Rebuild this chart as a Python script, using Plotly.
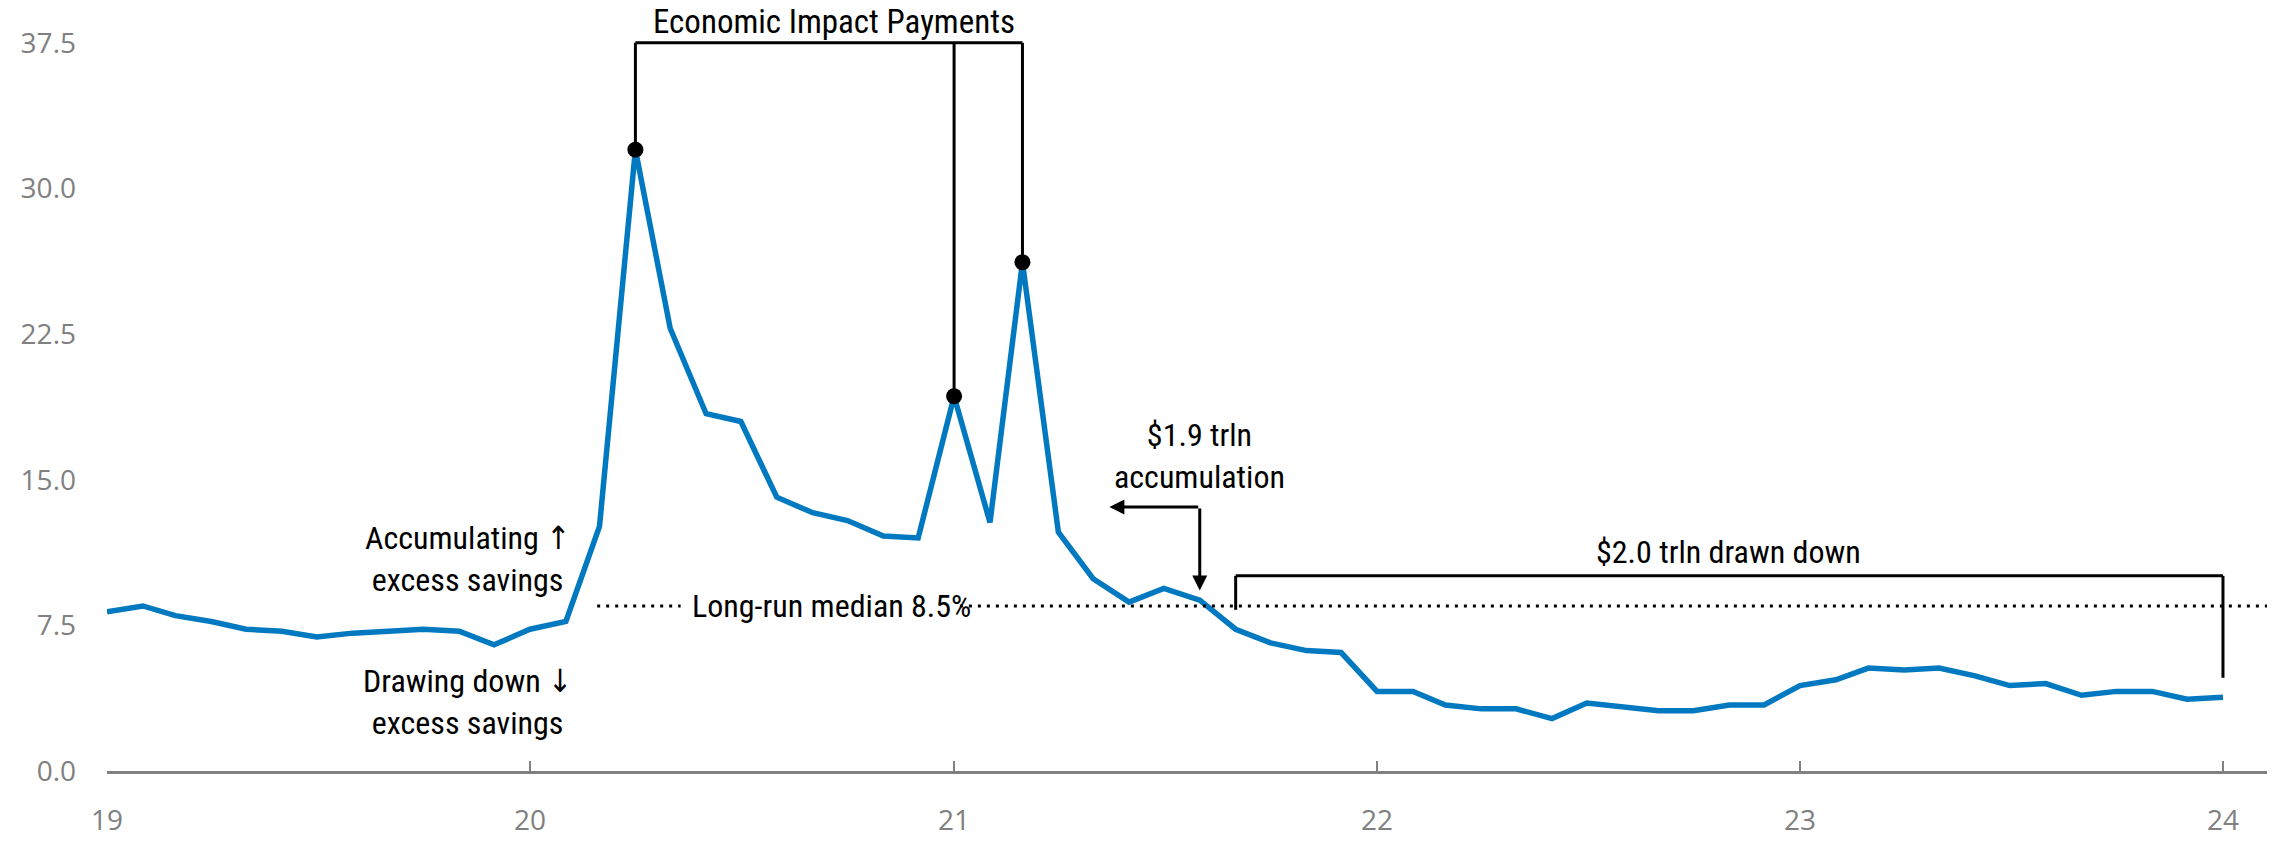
import pandas as pd
import plotly.graph_objects as go

# Monthly personal saving rate, % of disposable income (Jan 2019 - Jan 2024)
months = pd.date_range("2019-01-01", "2024-01-01", freq="MS")
saving_rate = [
    8.2, 8.5, 8.0, 7.7, 7.3, 7.2, 6.9, 7.1, 7.2, 7.3, 7.2, 6.5,      # 2019
    7.3, 7.7, 12.6, 32.0, 22.8, 18.4, 18.0, 14.1, 13.3, 12.9, 12.1, 12.0,  # 2020
    19.3, 12.8, 26.2, 12.3, 9.9, 8.7, 9.4, 8.8, 7.3, 6.6, 6.2, 6.1,  # 2021
    4.1, 4.1, 3.4, 3.2, 3.2, 2.7, 3.5, 3.3, 3.1, 3.1, 3.4, 3.4,      # 2022
    4.4, 4.7, 5.3, 5.2, 5.3, 4.9, 4.4, 4.5, 3.9, 4.1, 4.1, 3.7,      # 2023
    3.8,                                                             # 2024
]
payment_months = ["2020-04-01", "2021-01-01", "2021-03-01"]
long_run_median = 8.5

y_ticks = [0, 7.5, 15, 22.5, 30, 37.5]
x_ticks = ["2019-01-01", "2020-01-01", "2021-01-01", "2022-01-01", "2023-01-01", "2024-01-01"]
x_tick_text = ["19", "20", "21", "22", "23", "24"]

BLUE = "#0079C1"
GREY = "#808080"
TXT_FONT = dict(family="Roboto Condensed, DejaVu Sans Condensed, sans-serif", size=32, color="black")
TICK_FONT = dict(family="Open Sans, sans-serif", size=28, color=GREY)

series = pd.Series(saving_rate, index=months)
payment_vals = [series[pd.Timestamp(d)] for d in payment_months]

fig = go.Figure()
fig.add_trace(go.Scatter(x=months, y=saving_rate, mode="lines",
                         line=dict(color=BLUE, width=5.5), showlegend=False))

shapes = []
# Economic Impact Payments bracket: stems from each payment month up to a common bar
bracket_top = 37.5
for d, v in zip(payment_months, payment_vals):
    shapes.append(dict(type="line", xref="x", yref="y", x0=d, x1=d, y0=v, y1=bracket_top,
                       line=dict(color="black", width=3)))
shapes.append(dict(type="line", xref="x", yref="y", x0=payment_months[0], x1=payment_months[-1],
                   y0=bracket_top, y1=bracket_top, line=dict(color="black", width=3)))

# Long-run median, broken around its label
dot = dict(color="black", width=3, dash="3px,6px")
shapes.append(dict(type="line", xref="x", yref="y", x0="2020-02-28", x1="2020-05-10",
                   y0=long_run_median, y1=long_run_median, line=dot))
shapes.append(dict(type="line", xref="x", yref="y", x0="2021-01-06", x1="2024-02-08",
                   y0=long_run_median, y1=long_run_median, line=dot))

# Drawdown bracket
dd_top = 10.05
shapes += [
    dict(type="line", xref="x", yref="y", x0="2021-09-01", x1="2021-09-01", y0=8.3, y1=dd_top,
         line=dict(color="black", width=3)),
    dict(type="line", xref="x", yref="y", x0="2021-09-01", x1="2024-01-01", y0=dd_top, y1=dd_top,
         line=dict(color="black", width=3)),
    dict(type="line", xref="x", yref="y", x0="2024-01-01", x1="2024-01-01", y0=dd_top, y1=4.8,
         line=dict(color="black", width=3)),
]

fig.add_trace(go.Scatter(x=payment_months, y=payment_vals, mode="markers",
                         marker=dict(color="black", size=16), showlegend=False, cliponaxis=False))

annotations = [
    dict(x="2020-09-19", y=38.6, text="Economic Impact Payments", showarrow=False,
         font=dict(size=33)),
    dict(x="2019-11-08", y=10.9, text="Accumulating ↑<br>excess savings", showarrow=False),
    dict(x="2019-11-08", y=3.55, text="Drawing down ↓<br>excess savings", showarrow=False),
    dict(x="2020-09-17", y=long_run_median, text="Long-run median 8.5%", showarrow=False),
    dict(x="2021-08-01", y=16.2, text="$1.9 trln<br>accumulation", showarrow=False),
    dict(x="2022-10-31", y=11.3, text="$2.0 trln drawn down", showarrow=False),
    # L-shaped arrow pointing left and down
    dict(x="2021-08-01", y=9.3, ax="2021-08-01", ay=13.6, axref="x", ayref="y",
         showarrow=True, arrowhead=2, arrowsize=1, arrowwidth=3, arrowcolor="black", text=""),
    dict(x="2021-05-15", y=13.6, ax="2021-08-01", ay=13.6, axref="x", ayref="y",
         showarrow=True, arrowhead=2, arrowsize=1, arrowwidth=3, arrowcolor="black", text=""),
]
for a in annotations:
    a.setdefault("xref", "x")
    a.setdefault("yref", "y")
    a["font"] = {**TXT_FONT, **a.get("font", {})}

fig.update_layout(
    width=2282, height=842,
    margin=dict(l=107, r=15, t=4, b=61),
    paper_bgcolor="white", plot_bgcolor="white",
    shapes=shapes, annotations=annotations,
    xaxis=dict(type="date", range=["2019-01-01", "2024-02-08"],
               tickvals=x_ticks, ticktext=x_tick_text,
               showgrid=False, zeroline=False,
               showline=True, linecolor=GREY, linewidth=3,
               ticks="inside", ticklen=10, tickwidth=2, tickcolor=GREY,
               tickfont=TICK_FONT, ticklabelstandoff=22),
    yaxis=dict(range=[0, 39.5], tickvals=y_ticks, tickformat=".1f",
               showgrid=False, zeroline=False, showline=False, ticks="",
               tickfont=TICK_FONT, ticklabelstandoff=30),
)

fig.write_html("out.html")
